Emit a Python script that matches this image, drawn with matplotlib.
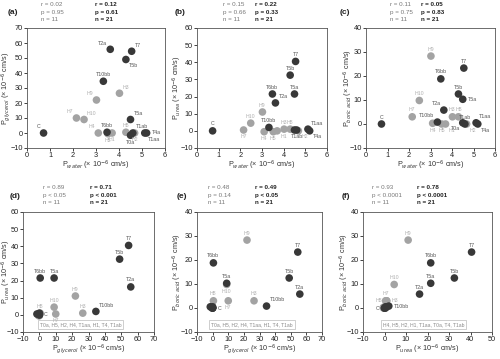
import matplotlib
matplotlib.use("Agg")
import matplotlib.pyplot as plt
import numpy as np

plt.rcParams["font.family"] = ["Liberation Sans", "DejaVu Sans"]

# permeabilities (x 10^-6 cm/s) per channel
names    = ["C", "T7", "T5b", "T2a", "T5a", "T6bb", "T10bb", "T0a", "T1ab", "T1aa", "T4a",
            "H9", "H3", "H10", "H7", "H8", "H4", "H5", "H1", "H2"]
water    = [0.72, 4.55, 4.30, 3.62, 4.50, 3.48, 3.32, 4.50, 4.60, 5.12, 5.20,
            3.02, 4.02, 2.48, 2.15, 4.30, 3.10, 3.52, 3.70, 4.68]
glycerol = [0.0, 54.5, 49.0, 55.8, 9.0, 0.5, 34.5, -1.5, 0.0, 0.0, 0.0,
            22.0, 26.5, 9.0, 10.0, 0.5, 0.0, -0.5, 0.0, 0.0]
urea     = [0.0, 40.5, 32.5, 16.3, 21.5, 21.5, 2.0, 0.5, 0.5, 1.0, 0.0,
            11.0, 1.0, 4.5, 0.5, 1.0, -0.5, -0.5, 0.0, 0.0]
boric    = [0.0, 23.3, 12.5, 5.8, 10.3, 18.8, 0.8, 0.5, 0.0, 0.5, 0.0,
            28.3, 3.0, 9.8, 3.0, 3.0, 0.3, 0.0, 0.0, 0.0]
is_human = [False] * 11 + [True] * 9

stats_11 = [("r = 0.02", "p = 0.95"), ("r = 0.15", "p = 0.66"), ("r = 0.11", "p = 0.75"),
            ("r = 0.89", "p < 0.05"), ("r = 0.48", "p = 0.14"), ("r = 0.93", "p < 0.0001")]
stats_21 = [("r = 0.12", "p = 0.61"), ("r = 0.22", "p = 0.33"), ("r = 0.05", "p = 0.83"),
            ("r = 0.71", "p < 0.001"), ("r = 0.49", "p < 0.05"), ("r = 0.78", "p < 0.0001")]

DARK, GREY = "#383838", "#a3a3a3"
OFF = {"n": (0, 3.2, "center", "bottom"), "s": (0, -3.2, "center", "top"),
       "e": (3.5, 0, "left", "center"), "w": (-3.5, 0, "right", "center"),
       "ne": (2.2, 2.6, "left", "bottom"), "nw": (-2.2, 2.6, "right", "bottom"),
       "se": (2.2, -2.6, "left", "top"), "sw": (-2.2, -2.6, "right", "top")}

lab_a = dict(C="nw", T2a="nw", T7="ne", T5b="se", T10bb="n", H9="nw", H3="ne", H7="nw",
             H10="ne", T5a="ne", H4="nw", T6bb="n", H8="n", T1ab="ne", T4a="e", H5="s",
             H1="s", T0a="s", H2="s", T1aa="se")
lab_b = dict(C="n", T7="n", T5b="n", T6bb="n", T5a="n", T2a="ne", H9="n", H10="n", H7="s",
             T10bb="n", H4="s", H5="s", H1="se", H3="n", H8="n", T1ab="s", H2="se",
             T1aa="ne", T4a="se")
lab_c = dict(C="n", H9="n", T7="n", T6bb="n", T5b="n", T5a="e", H10="n", T2a="nw", H7="n",
             H3="n", H8="n", T10bb="nw", T1ab="n", T1aa="ne", H4="s", H5="s", H1="se",
             T0a="sw", H2="se", T4a="se")
lab_d = dict(T7="n", T5b="n", T6bb="n", T5a="n", T2a="n", H9="n", H10="n", H7="s", H3="n",
             T10bb="ne", H8="n", C="e")
lab_e = dict(T6bb="n", T5a="n", H10="s", H9="n", T7="n", T5b="n", T2a="n", H8="n", H7="s",
             H3="n", T10bb="ne", C="e")
lab_f = dict(H9="n", T7="n", T6bb="n", T5b="n", T5a="n", H10="n", T2a="n", H7="n",
             H8="w", H3="e", C="w", T10bb="e")

box_txt = [None, None, None,
           "T0a, H5, H2, H4, T1aa, H1, T4, T1ab",
           "T0a, H5, H2, H4, T1aa, H1, T4, T1ab",
           "H4, H5, H2, H1, T1aa, T0a, T4, T1ab"]

def xl(s):
    return "P$_{\\mathit{%s}}$ (\u00d7 10$^{-6}$ cm/s)" % s.replace(" ", "\\ ")

panels = [
    # x, y, xname, yname, xlim, ylim, labels, axes px (x0, x1, top, bottom),
    # stats px (tag x, col1 x, col2 x, top), tag, ylabel offset px
    (water, glycerol, "water", "glycerol", (0, 6, 1), (-10, 70, 10), lab_a,
     (27, 165, 28, 148), (8, 41, 95, 0), "(a)", 21),
    (water, urea, "water", "urea", (0, 6, 1), (-10, 60, 10), lab_b,
     (197, 327, 28, 148), (175, 223, 255, 0), "(b)", 20),
    (water, boric, "water", "boric acid", (0, 6, 1), (-10, 40, 10), lab_c,
     (366, 495, 28, 148), (340, 390, 421, 0), "(c)", 18),
    (glycerol, urea, "glycerol", "urea", (-10, 70, 10), (-10, 60, 10), lab_d,
     (23, 154, 212, 332), (10, 43, 90, 183), "(d)", 17),
    (glycerol, boric, "glycerol", "boric acid", (-10, 70, 10), (-10, 40, 10), lab_e,
     (197, 322, 212, 332), (177, 208, 255, 183), "(e)", 20),
    (urea, boric, "urea", "boric acid", (-10, 50, 10), (-10, 40, 10), lab_f,
     (363, 492, 212, 332), (342, 372, 417, 183), "(f)", 19),
]

W, H = 500, 359
fig = plt.figure(figsize=(5.0, 3.59), dpi=100)

for i, (xs, ys, xn, yn, xr, yr, labs, pos, st, tag, ypad) in enumerate(panels):
    x0, x1, top, bot = pos
    aw, ah = x1 - x0, bot - top
    ax = fig.add_axes([x0 / W, 1 - bot / H, aw / W, ah / H])
    xs, ys = np.array(xs), np.array(ys)
    hum = np.array(is_human)
    ax.scatter(xs[hum], ys[hum], s=30, color=GREY, edgecolor="none", zorder=3)
    ax.scatter(xs[~hum], ys[~hum], s=30, color=DARK, edgecolor="none", zorder=4)
    for name, where in labs.items():
        k = names.index(name)
        dx, dy, ha, va = OFF[where]
        ax.annotate(name, (xs[k], ys[k]), xytext=(dx, dy), textcoords="offset points",
                    ha=ha, va=va, fontsize=3.8,
                    color="#b0b0b0" if is_human[k] else "#555555", zorder=5)
    ax.set_xlim(xr[0], xr[1])
    ax.set_ylim(yr[0], yr[1])
    ax.set_xticks(np.arange(xr[0], xr[1] + 0.1, xr[2]))
    ax.set_yticks(np.arange(yr[0], yr[1] + 0.1, yr[2]))
    ax.tick_params(direction="out", length=2, width=0.6, labelsize=5.3, pad=1,
                   colors="#222222")
    for sp in ax.spines.values():
        sp.set_linewidth(0.6)
        sp.set_color("#555555")
    ax.set_xlabel(xl(xn), fontsize=5.2, color="#333333", va="center")
    ax.set_ylabel(xl(yn), fontsize=5.2, color="#333333", va="center")
    ax.xaxis.set_label_coords(0.5, -17.5 / ah)
    ax.yaxis.set_label_coords(-ypad / aw, 0.5)
    if box_txt[i]:
        ax.text(0.44 if i < 5 else 0.47, 0.06, box_txt[i], transform=ax.transAxes,
                ha="center", va="center", fontsize=3.6, color="#8a8a8a", zorder=2,
                bbox=dict(boxstyle="square,pad=0.4", fc="white", ec="#bbbbbb", lw=0.5))

    tx, c1, c2, y0 = st
    fig.text(tx / W, 1 - (y0 + 13) / H, tag, fontsize=6, fontweight="bold",
             ha="left", va="center", color="#222222")
    l1 = list(stats_11[i]) + ["n = 11"]
    l2 = list(stats_21[i]) + ["n = 21"]
    for j in range(3):
        yy = 1 - (y0 + 4.5 + 7.7 * j) / H
        fig.text(c1 / W, yy, l1[j], fontsize=4.5, ha="left", va="center", color="#777777")
        fig.text(c2 / W, yy, l2[j], fontsize=4.5, ha="left", va="center",
                 color="#222222", fontweight="bold")

fig.savefig("out.png", dpi=100)
